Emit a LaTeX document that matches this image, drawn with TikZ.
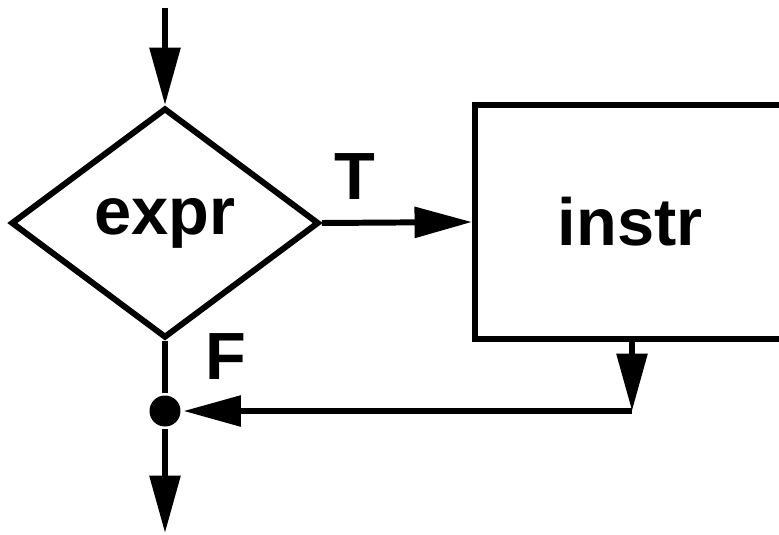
\documentclass[tikz,border=0pt]{standalone}
\usepackage{fontspec}
\setmainfont{Liberation Sans}
\usetikzlibrary{arrows.meta,shapes.geometric}

\begin{document}
\begin{tikzpicture}[x=0.02cm,y=-0.02cm,
  line width=3.4pt,
  lbl/.style={font=\bfseries\fontsize{38}{44}\selectfont},
  flow/.style={-{Triangle[length=1.15cm,width=0.6cm]}}]
  \useasboundingbox (0,0) rectangle (779,535);

  \node[draw, diamond, aspect=1.34, inner sep=0pt, minimum width=6.16cm, minimum height=4.6cm, lbl] (expr) at (165,223) {expr};
  \node[draw, rectangle, minimum width=6.2cm, minimum height=4.7cm, lbl] (instr) at (630,222) {instr};
  \node[circle, fill, inner sep=0pt, minimum size=0.62cm] (join) at (165,411) {};
  \coordinate (start) at (165,8);
  \coordinate (back) at (632,411);
  \coordinate (exit) at (165,533);

  \draw[flow] (start) -- (expr.north);
  \draw[flow] (expr.east) -- (instr.west) node[lbl, pos=0.22, above=8pt] {T};
  \draw[flow] (instr.south -| back) -- (back);
  \draw[flow] (back) -- (join);
  \draw (expr.south) -- (join);
  \draw[flow] (join) -- (exit);
  \node[lbl] (flabel) at (226,357) {F};
\end{tikzpicture}
\end{document}
